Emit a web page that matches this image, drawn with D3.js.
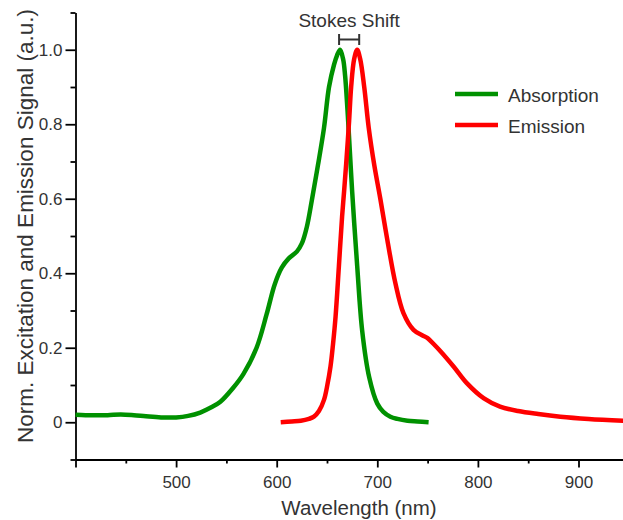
<!DOCTYPE html>
<html>
<head>
<meta charset="utf-8">
<script src="https://cdn.jsdelivr.net/npm/d3@7"></script>
<style>
    body { margin: 0; background: white; }
    svg { display: block; font-family: "Liberation Sans", Arial, sans-serif; }
    .label { fill: #333; }
</style>
</head>
<body>
<div id="chart-container"></div>
<script>
// absorption spectrum (green)
const absWavelength = [400, 410, 421, 432, 445, 458, 470, 485, 500, 512, 524, 535, 544, 556, 567, 580, 590, 598, 605, 612, 620, 625, 630, 635, 641, 647, 652, 657, 660, 663, 666, 668, 671, 675, 680, 685, 692, 700, 706, 713, 720, 730, 740, 751];
const absSignal = [0.020, 0.019, 0.019, 0.019, 0.021, 0.019, 0.016, 0.013, 0.013, 0.017, 0.026, 0.040, 0.055, 0.090, 0.130, 0.200, 0.290, 0.370, 0.415, 0.440, 0.458, 0.480, 0.525, 0.597, 0.690, 0.790, 0.900, 0.960, 0.985, 1.000, 0.975, 0.930, 0.810, 0.620, 0.420, 0.245, 0.120, 0.050, 0.028, 0.015, 0.009, 0.004, 0.002, 0.000];

// emission spectrum (red)
const emWavelength = [604, 615, 624, 632, 637, 642, 647, 650, 653.5, 656, 658.5, 661.8, 665, 667, 669.5, 672, 674, 677, 680, 683, 687, 691.5, 697, 703, 710, 718, 726, 736, 745, 750, 756, 763, 776, 789, 806, 822, 840, 860, 882, 910, 945];
const emSignal = [0.000, 0.002, 0.004, 0.009, 0.015, 0.030, 0.060, 0.095, 0.150, 0.210, 0.283, 0.418, 0.552, 0.620, 0.710, 0.810, 0.900, 0.975, 1.000, 0.975, 0.900, 0.790, 0.690, 0.600, 0.489, 0.373, 0.293, 0.248, 0.233, 0.226, 0.210, 0.190, 0.149, 0.105, 0.064, 0.042, 0.030, 0.022, 0.015, 0.009, 0.004];

const seriesNames = ['Absorption', 'Emission'];
const seriesColors = ['#009100', '#ff0000'];

const xMajorTicks = [400, 500, 600, 700, 800, 900];
const xMinorTicks = [450, 550, 650, 750, 850, 950];
const yMajorTicks = [0, 0.2, 0.4, 0.6, 0.8, 1.0];
const yMinorTicks = [-0.1, 0.1, 0.3, 0.5, 0.7, 0.9, 1.1];

// peaks bracketed by the Stokes shift marker
const stokesRange = [662, 682];

class SpectrumChart
{
    constructor(containerId)
    {
        this.width = 623;
        this.height = 520;
        this.svg = d3.select('#' + containerId)
            .append('svg')
            .attr('width', this.width)
            .attr('height', this.height);

        this.x = d3.scaleLinear().domain([400, 950]).range([75.5, 628.8]);
        this.y = d3.scaleLinear().domain([-0.1, 1.1]).range([459.5, 12.5]);

        this.drawAxes();
        this.drawCurves();
        this.drawLegend();
        this.drawStokes();
    }

    drawAxes()
    {
        const xAxisY = this.y(-0.1);
        const yAxisX = this.x(400);

        // minor ticks first, no labels
        this.svg.append('g')
            .attr('transform', `translate(0, ${xAxisY})`)
            .call(d3.axisBottom(this.x).tickValues(xMinorTicks).tickSize(4).tickFormat(''))
            .call(g => g.select('.domain').remove());

        this.svg.append('g')
            .attr('transform', `translate(${yAxisX}, 0)`)
            .call(d3.axisLeft(this.y).tickValues(yMinorTicks).tickSize(5).tickFormat(''))
            .call(g => g.select('.domain').remove());

        this.svg.append('g')
            .attr('transform', `translate(0, ${xAxisY})`)
            .call(d3.axisBottom(this.x)
                .tickValues(xMajorTicks)
                .tickSize(8)
                .tickSizeOuter(0)
                .tickPadding(8)
                .tickFormat(d => d === 400 ? '' : d));

        this.svg.append('g')
            .attr('transform', `translate(${yAxisX}, 0)`)
            .call(d3.axisLeft(this.y)
                .tickValues(yMajorTicks)
                .tickSize(10)
                .tickSizeOuter(0)
                .tickPadding(3)
                .tickFormat(d => d === 0 ? '0' : d3.format('.1f')(d)));

        this.svg.selectAll('.tick line, .domain')
            .attr('stroke', 'black')
            .attr('stroke-width', 1.8);

        this.svg.selectAll('.tick text')
            .attr('fill', '#333')
            .style('font-size', '17px')
            .style('font-family', '"Liberation Sans", Arial, sans-serif');

        // axis titles
        this.svg.append('text')
            .attr('x', 359)
            .attr('y', 515)
            .attr('text-anchor', 'middle')
            .style('font-size', '20.5px')
            .classed('label', true)
            .text('Wavelength (nm)');

        this.svg.append('text')
            .attr('transform', 'translate(33, 226) rotate(-90)')
            .attr('text-anchor', 'middle')
            .style('font-size', '22.5px')
            .classed('label', true)
            .text('Norm. Excitation and Emission Signal (a.u.)');
    }

    drawCurves()
    {
        const line = d3.line()
            .x(d => this.x(d[0]))
            .y(d => this.y(d[1]))
            .curve(d3.curveCatmullRom.alpha(0.5));

        const series = [
            d3.zip(absWavelength, absSignal),
            d3.zip(emWavelength, emSignal)
        ];

        this.svg.selectAll('.spectrum')
            .data(series)
            .join('path')
            .attr('d', line)
            .attr('fill', 'none')
            .attr('stroke', (d, i) => seriesColors[i])
            .attr('stroke-width', 4.5)
            .attr('stroke-linejoin', 'round')
            .classed('spectrum', true);
    }

    drawLegend()
    {
        const legend = this.svg.selectAll('.legend-item')
            .data(seriesNames)
            .join('g')
            .attr('transform', (d, i) => `translate(455, ${94 + 31 * i})`)
            .classed('legend-item', true);

        legend.append('line')
            .attr('x1', 0)
            .attr('x2', 43)
            .attr('stroke', (d, i) => seriesColors[i])
            .attr('stroke-width', 4.5);

        legend.append('text')
            .attr('x', 53)
            .attr('y', 7.5)
            .style('font-size', '19px')
            .classed('label', true)
            .text(d => d);
    }

    drawStokes()
    {
        const x1 = this.x(stokesRange[0]);
        const x2 = this.x(stokesRange[1]);
        const midY = 39.5;

        const bracket = this.svg.append('g')
            .attr('stroke', '#333')
            .attr('stroke-width', 2);
        bracket.append('line').attr('x1', x1).attr('x2', x2).attr('y1', midY).attr('y2', midY);
        bracket.append('line').attr('x1', x1).attr('x2', x1).attr('y1', midY - 5.5).attr('y2', midY + 5.5);
        bracket.append('line').attr('x1', x2).attr('x2', x2).attr('y1', midY - 5.5).attr('y2', midY + 5.5);

        this.svg.append('text')
            .attr('x', (x1 + x2) / 2)
            .attr('y', 26.5)
            .attr('text-anchor', 'middle')
            .style('font-size', '19px')
            .classed('label', true)
            .text('Stokes Shift');
    }
}

new SpectrumChart('chart-container');
</script>
</body>
</html>
